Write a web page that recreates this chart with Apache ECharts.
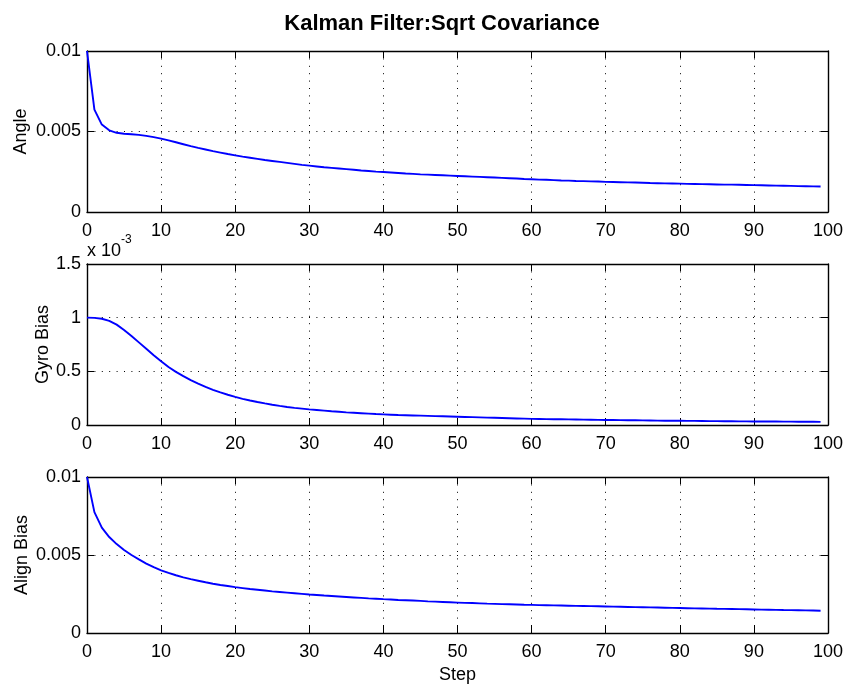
<!DOCTYPE html>
<html>
<head>
<meta charset="utf-8">
<script src="https://cdn.jsdelivr.net/npm/echarts@6/dist/echarts.min.js"></script>
<style>
  html, body { margin: 0; padding: 0; background: #fff; }
  #chart { width: 846px; height: 685px; }
</style>
</head>
<body>
<div id="chart"></div>
<script>
// Square root of the filter covariance diagonal, one value per step (0..99)
const angleSigma = [
  0.0100, 0.00636, 0.00543, 0.00507, 0.00492, 0.00486, 0.00483, 0.00479, 0.00473, 0.00465,
  0.00456, 0.00445, 0.00433, 0.00421, 0.00409, 0.00398, 0.00388, 0.00378, 0.00369, 0.00360,
  0.00352, 0.00344, 0.00337, 0.00330, 0.00323, 0.00317, 0.00311, 0.00305, 0.00299, 0.00293,
  0.00288, 0.00283, 0.00278, 0.00274, 0.00270, 0.00266, 0.00262, 0.00258, 0.00255, 0.00251,
  0.00248, 0.00245, 0.00242, 0.00239, 0.00237, 0.00234, 0.00232, 0.00230, 0.00228, 0.00226,
  0.00224, 0.00222, 0.00220, 0.00218, 0.00216, 0.00214, 0.00212, 0.00210, 0.00208, 0.00205,
  0.00203, 0.00201, 0.00200, 0.00198, 0.00196, 0.00195, 0.00193, 0.00192, 0.00190, 0.00189,
  0.00187, 0.00186, 0.00185, 0.00184, 0.00183, 0.00182, 0.00180, 0.00179, 0.00178, 0.00177,
  0.00176, 0.00175, 0.00174, 0.00173, 0.00172, 0.00171, 0.00170, 0.00170, 0.00169, 0.00168,
  0.00167, 0.00166, 0.00165, 0.00164, 0.00163, 0.00162, 0.00161, 0.00160, 0.00159, 0.00158
];

const gyroBiasSigma = [
  0.001000, 0.000998, 0.000990, 0.000970, 0.000935, 0.000885, 0.000830, 0.000770, 0.000710, 0.000650,
  0.000595, 0.000540, 0.000495, 0.000455, 0.000418, 0.000385, 0.000355, 0.000328, 0.000304, 0.000282,
  0.000262, 0.000244, 0.000228, 0.000214, 0.000201, 0.000189, 0.000178, 0.000168, 0.000160, 0.000153,
  0.000146, 0.000140, 0.000134, 0.000128, 0.000123, 0.000118, 0.000114, 0.000110, 0.000106, 0.000102,
  0.000099, 0.000096, 0.000093, 0.000091, 0.000089, 0.000087, 0.000085, 0.000083, 0.000081, 0.000079,
  0.000077, 0.000075, 0.000073, 0.000071, 0.000069, 0.000067, 0.000065, 0.000063, 0.000061, 0.000059,
  0.000057, 0.000056, 0.000055, 0.000054, 0.000053, 0.000052, 0.000051, 0.000050, 0.000049, 0.000048,
  0.000047, 0.000046, 0.000045, 0.000044, 0.000044, 0.000043, 0.000042, 0.000041, 0.000040, 0.000040,
  0.000039, 0.000038, 0.000038, 0.000037, 0.000036, 0.000036, 0.000035, 0.000035, 0.000034, 0.000034,
  0.000033, 0.000033, 0.000032, 0.000032, 0.000031, 0.000031, 0.000030, 0.000030, 0.000030, 0.000029
];

const alignBiasSigma = [
  0.01000, 0.00775, 0.00675, 0.00615, 0.00570, 0.00532, 0.00500, 0.00472, 0.00445, 0.00422,
  0.00402, 0.00385, 0.00370, 0.00357, 0.00345, 0.00335, 0.00325, 0.00316, 0.00308, 0.00301,
  0.00294, 0.00288, 0.00282, 0.00277, 0.00272, 0.00267, 0.00263, 0.00259, 0.00255, 0.00251,
  0.00247, 0.00244, 0.00240, 0.00237, 0.00234, 0.00231, 0.00228, 0.00225, 0.00222, 0.00220,
  0.00217, 0.00215, 0.00212, 0.00210, 0.00208, 0.00206, 0.00203, 0.00201, 0.00199, 0.00197,
  0.00195, 0.00193, 0.00192, 0.00190, 0.00188, 0.00187, 0.00185, 0.00184, 0.00183, 0.00181,
  0.00180, 0.00179, 0.00178, 0.00177, 0.00176, 0.00175, 0.00174, 0.00173, 0.00172, 0.00171,
  0.00170, 0.00169, 0.00168, 0.00167, 0.00166, 0.00165, 0.00164, 0.00163, 0.00162, 0.00161,
  0.00160, 0.00159, 0.00158, 0.00157, 0.00156, 0.00155, 0.001545, 0.00154, 0.00153, 0.00152,
  0.00151, 0.00150, 0.00149, 0.00148, 0.00147, 0.001465, 0.00146, 0.00145, 0.00144, 0.00143
];

// Axis ranges and tick spacing for each panel
const stepRange = { min: 0, max: 100, interval: 10 };
const panelNames = ['Angle', 'Gyro Bias', 'Align Bias'];
const panelYRange = [
  { min: 0, max: 0.01, interval: 0.005 },
  { min: 0, max: 0.0015, interval: 0.0005 },
  { min: 0, max: 0.01, interval: 0.005 }
];
const panelSeries = [angleSigma, gyroBiasSigma, alignBiasSigma];
const titleText = 'Kalman Filter:Sqrt Covariance';
const xAxisName = 'Step';

const FONT = '"Liberation Sans", Arial, Helvetica, sans-serif';
const labelSize = 18;
const nameGaps = [57, 35, 56];

const grids = [
  { left: 87, right: 15, top: 51, height: 161 },
  { left: 87, right: 15, top: 264, height: 161 },
  { left: 87, right: 15, top: 477, height: 161 }
];

const frameLine = { show: true, onZero: false, lineStyle: { color: '#000', width: 1.4 } };
const tickIn = { show: true, inside: true, length: 7, lineStyle: { color: '#000', width: 1 } };
const dotted = { show: true, lineStyle: { color: '#000', width: 1, type: [1, 6.4] } };

const xAxes = [];
const yAxes = [];
const series = [];

panelSeries.forEach((values, i) => {
  const yr = panelYRange[i];
  // bottom x axis with labels and dotted grid
  xAxes.push({
    type: 'value', gridIndex: i, position: 'bottom',
    min: stepRange.min, max: stepRange.max, interval: stepRange.interval,
    axisLine: frameLine,
    axisTick: tickIn,
    axisLabel: { show: true, color: '#000', fontSize: labelSize, fontFamily: FONT, margin: 10,
                 showMinLabel: true, showMaxLabel: true },
    splitLine: dotted,
    name: i === 2 ? xAxisName : '',
    nameLocation: 'middle', nameGap: 33, nameMoveOverlap: false,
    nameTextStyle: { color: '#000', fontSize: labelSize, fontFamily: FONT }
  });
  // top frame edge with inward ticks
  xAxes.push({
    type: 'value', gridIndex: i, position: 'top',
    min: stepRange.min, max: stepRange.max, interval: stepRange.interval,
    axisLine: frameLine,
    axisTick: tickIn,
    axisLabel: { show: false },
    splitLine: { show: false }
  });
  const fmt = i === 1
    ? (v) => String(Math.round(v * 1e4) / 10)
    : (v) => String(Math.round(v * 1e4) / 1e4);
  yAxes.push({
    type: 'value', gridIndex: i, position: 'left',
    min: yr.min, max: yr.max, interval: yr.interval,
    axisLine: frameLine,
    axisTick: tickIn,
    axisLabel: { show: true, color: '#000', fontSize: labelSize, fontFamily: FONT, margin: 6,
                 formatter: fmt, showMinLabel: true, showMaxLabel: true },
    splitLine: dotted,
    name: panelNames[i],
    nameLocation: 'middle',
    nameGap: nameGaps[i],
    nameMoveOverlap: false,
    nameTextStyle: { color: '#000', fontSize: labelSize, fontFamily: FONT }
  });
  yAxes.push({
    type: 'value', gridIndex: i, position: 'right',
    min: yr.min, max: yr.max, interval: yr.interval,
    axisLine: frameLine,
    axisTick: tickIn,
    axisLabel: { show: false },
    splitLine: { show: false }
  });
  series.push({
    type: 'line',
    xAxisIndex: i * 2,
    yAxisIndex: i * 2,
    data: values.map((v, step) => [step, v]),
    showSymbol: false,
    symbol: 'none',
    smooth: false,
    lineStyle: { color: '#0000ff', width: 1.9 },
    animation: false,
    z: 3
  });
});

const chart = echarts.init(document.getElementById('chart'), null, { renderer: 'canvas' });
chart.setOption({
  backgroundColor: '#fff',
  animation: false,
  title: {
    text: titleText,
    left: 437, top: 8, textAlign: 'center',
    textStyle: { color: '#000', fontSize: 22, fontWeight: 'bold', fontFamily: FONT }
  },
  grid: grids,
  xAxis: xAxes,
  yAxis: yAxes,
  series: series,
  graphic: [
    { type: 'text', left: 87, top: 242,
      style: { text: 'x 10', fill: '#000', font: '18px ' + FONT } },
    { type: 'text', left: 121, top: 234,
      style: { text: '-3', fill: '#000', font: '12px ' + FONT } }
  ]
});
</script>
</body>
</html>
